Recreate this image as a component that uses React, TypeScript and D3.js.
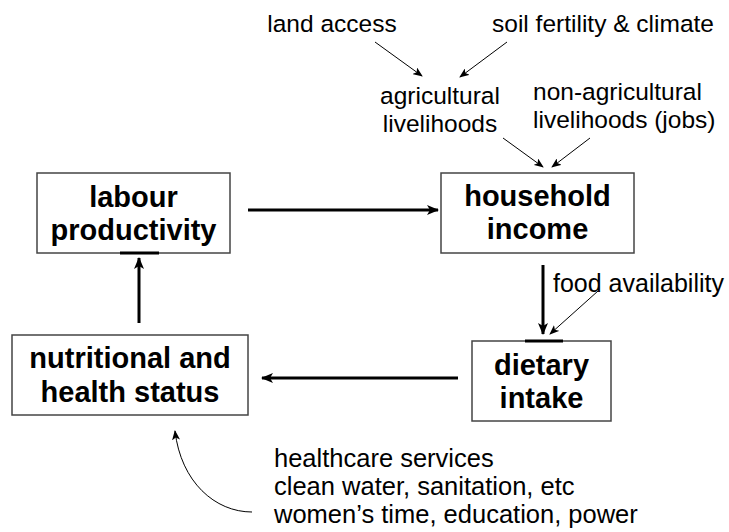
import React from 'react';
import * as d3 from 'd3';

// boxes: label lines and their rectangles (x0, y0, x1, y1)
const boxNames = ['labour', 'household', 'nutrition', 'dietary'];
const boxLines = [
  ['labour', 'productivity'],
  ['household', 'income'],
  ['nutritional and', 'health status'],
  ['dietary', 'intake'],
];
const boxRects = [
  [37, 173, 230, 253],
  [441, 173, 634, 253],
  [12, 335, 248, 415],
  [472, 341, 611, 421],
];
const boxBaselines = [
  [207, 240],
  [206, 239],
  [368, 402],
  [375, 408],
];

// thick flow arrows between the boxes
const flowArrows = [
  [[248, 210], [438, 210]],
  [[543, 265], [543, 334]],
  [[458, 378], [262, 378]],
  [[139, 323], [139, 258]],
];

// plain labels
const labelTexts = [
  'land access',
  'soil fertility & climate',
  'agricultural',
  'livelihoods',
  'non-agricultural',
  'livelihoods (jobs)',
  'food availability',
  'healthcare services',
  'clean water, sanitation, etc',
  'women\u2019s time, education, power',
];
const labelPos = [
  [332, 32, 'middle'],
  [603, 32, 'middle'],
  [440, 104, 'middle'],
  [440, 132, 'middle'],
  [533, 100, 'start'],
  [533, 128, 'start'],
  [553, 292, 'start'],
  [274, 467, 'start'],
  [274, 495, 'start'],
  [274, 523, 'start'],
];
const labelSizes = [24.5, 24.5, 24.5, 24.5, 24.5, 24.5, 25, 25.5, 25.5, 25.5];

// thin influence arrows
const thinArrows = [
  [[375, 42], [422, 76]],
  [[507, 42], [460, 77]],
  [[503, 138], [543, 167]],
  [[590, 138], [552, 167]],
  [[598, 291], [550, 334]],
];

// short emphasis lines on box edges
const edgeMarks = [
  [[120, 253], [159, 253]],
  [[525, 341], [563, 341]],
];

const font = '"Liberation Sans", Arial, sans-serif';

export default function App() {
  const line = d3.line();
  const curve = d3.path();
  curve.moveTo(252, 512);
  curve.bezierCurveTo(215, 512, 181, 482, 175, 431);

  return (
    <svg width={729} height={532} style={{ position: 'absolute', left: 0, top: 0 }} fontFamily={font}>
      <defs>
        <marker id="thick" viewBox="0 0 12 10" refX="11" refY="5" markerWidth="12" markerHeight="10"
          markerUnits="userSpaceOnUse" orient="auto">
          <path d="M0,0 L12,5 L0,10 L3,5 Z" fill="#000" />
        </marker>
        <marker id="thin" viewBox="0 0 10 8" refX="9" refY="4" markerWidth="10" markerHeight="8"
          markerUnits="userSpaceOnUse" orient="auto">
          <path d="M0,0 L10,4 L0,8 L2.5,4 Z" fill="#000" />
        </marker>
      </defs>
      <rect width={729} height={532} fill="#fff" />

      {boxNames.map((name, i) => {
        const [x0, y0, x1, y1] = boxRects[i];
        const cx = (x0 + x1) / 2;
        return (
          <g key={name}>
            <rect x={x0} y={y0} width={x1 - x0} height={y1 - y0} fill="#fff" stroke="#444" strokeWidth={1.5} />
            {boxLines[i].map((t, j) => (
              <text key={t} x={cx} y={boxBaselines[i][j]} textAnchor="middle" fontWeight="bold" fontSize={29}>
                {t}
              </text>
            ))}
          </g>
        );
      })}

      {edgeMarks.map((m, i) => (
        <path key={i} d={line(m as [number, number][]) || ''} stroke="#000" strokeWidth={3} />
      ))}

      {flowArrows.map((a, i) => (
        <path key={i} d={line(a as [number, number][]) || ''} stroke="#000" strokeWidth={3} fill="none"
          markerEnd="url(#thick)" />
      ))}

      {thinArrows.map((a, i) => (
        <path key={i} d={line(a as [number, number][]) || ''} stroke="#000" strokeWidth={1} fill="none"
          markerEnd="url(#thin)" />
      ))}

      <path d={curve.toString()} stroke="#000" strokeWidth={1} fill="none" markerEnd="url(#thin)" />

      {labelTexts.map((t, i) => (
        <text key={i} x={labelPos[i][0] as number} y={labelPos[i][1] as number}
          textAnchor={labelPos[i][2] as string} fontSize={labelSizes[i]} fill="#000">
          {t}
        </text>
      ))}
    </svg>
  );
}
